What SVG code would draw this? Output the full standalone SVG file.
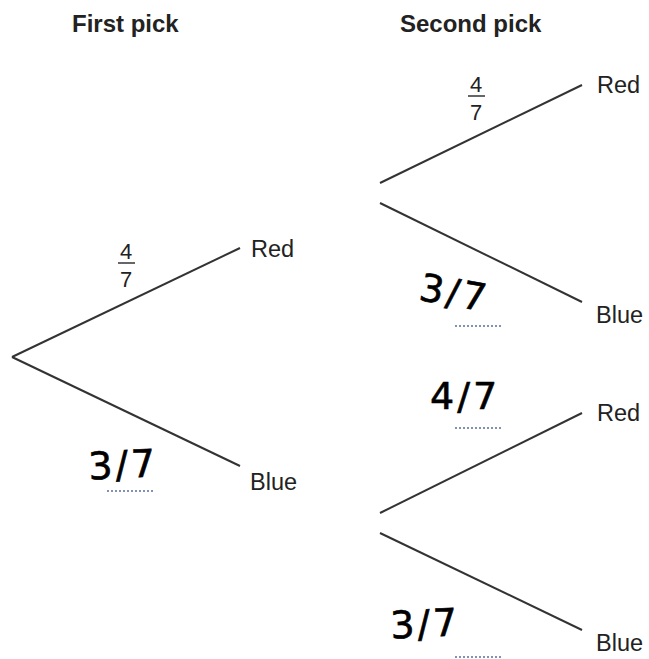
<svg xmlns="http://www.w3.org/2000/svg" width="649" height="659" viewBox="0 0 649 659">
<style>
.hdr{font-family:"Liberation Sans",Arial,sans-serif;font-weight:bold;font-size:24px;fill:#222}
.lbl{font-family:"Liberation Sans",Arial,sans-serif;font-size:23.5px;fill:#222}
.frac{font-family:"Liberation Sans",Arial,sans-serif;font-size:22px;fill:#222;text-anchor:middle}
.hand{font-family:"DejaVu Sans",sans-serif;font-size:38px;fill:#000;stroke:#000;stroke-width:0.6;letter-spacing:3px}
.br{stroke:#333;stroke-width:2;fill:none}
.dot{stroke:#5a6fa0;stroke-width:1.5;stroke-dasharray:2 2;fill:none}
.fl{stroke:#333;stroke-width:1.5}
</style>
<rect width="649" height="659" fill="#fff"/>
<g id="headers">
<text class="hdr" x="72" y="32">First pick</text>
<text class="hdr" x="400" y="32">Second pick</text>
</g>
<g id="connectors">
<line class="br" x1="12" y1="357" x2="240" y2="248"/>
<line class="br" x1="12" y1="357" x2="240" y2="466"/>
<line class="br" x1="380" y1="183" x2="582" y2="85"/>
<line class="br" x1="380" y1="203" x2="582" y2="302"/>
<line class="br" x1="380" y1="513" x2="582" y2="413"/>
<line class="br" x1="380" y1="533" x2="582" y2="630"/>
</g>
<g id="n-first-red"><text class="lbl" x="251" y="257">Red</text></g>
<g id="n-first-blue"><text class="lbl" x="250" y="490">Blue</text></g>
<g id="n-second-red1"><text class="lbl" x="597" y="93">Red</text></g>
<g id="n-second-blue1"><text class="lbl" x="596" y="323">Blue</text></g>
<g id="n-second-red2"><text class="lbl" x="597" y="421">Red</text></g>
<g id="n-second-blue2"><text class="lbl" x="596" y="651">Blue</text></g>
<g id="p-first-red">
<text class="frac" x="126" y="259">4</text>
<line class="fl" x1="118" y1="263" x2="135" y2="263"/>
<text class="frac" x="126" y="287">7</text>
</g>
<g id="p-first-blue">
<text class="hand" x="88" y="478" transform="rotate(-3 120 462)">3/7</text>
<line class="dot" x1="107" y1="491" x2="153" y2="491"/>
</g>
<g id="p-second-red1">
<text class="frac" x="476" y="92">4</text>
<line class="fl" x1="468" y1="96" x2="485" y2="96"/>
<text class="frac" x="476" y="120">7</text>
</g>
<g id="p-second-blue1">
<text class="hand" x="420" y="306" transform="rotate(10 455 290)">3/7</text>
<line class="dot" x1="455" y1="326" x2="503" y2="326"/>
</g>
<g id="p-second-red2">
<text class="hand" x="430" y="409">4/7</text>
<line class="dot" x1="455" y1="428" x2="503" y2="428"/>
</g>
<g id="p-second-blue2">
<text class="hand" x="390" y="637" transform="rotate(-3 425 620)">3/7</text>
<line class="dot" x1="455" y1="657" x2="503" y2="657"/>
</g>
</svg>
